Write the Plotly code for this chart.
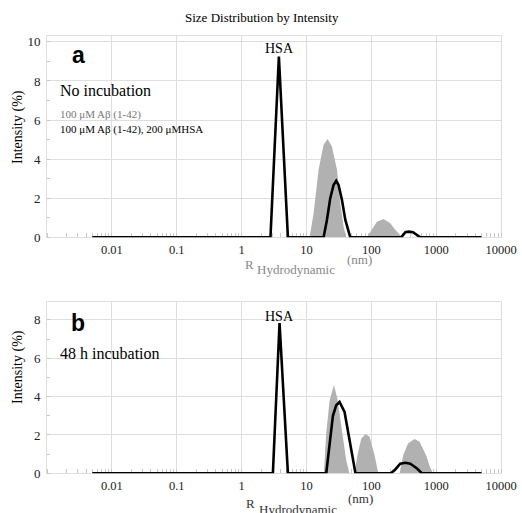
import plotly.graph_objects as go

W, H = 522, 513

# ---------------- data (hydrodynamic size in nm, intensity in %) ----------------
# Panel a: no incubation
a_abeta_size = [11.2, 12.9, 15.4, 18.4, 21.2, 24.7, 29.6, 33.3, 37.4, 41.1,
                85.7, 102, 122, 155, 196, 234, 298]
a_abeta_int = [0, 1.23, 3.45, 4.74, 5.03, 4.65, 3.45, 1.74, 0.55, 0,
               0, 0.38, 0.8, 0.94, 0.72, 0.38, 0]

a_mix_size = [0.005, 2.79, 2.88, 3.76, 5.18,
              18.4, 20.7, 23.3, 26.2, 28.8, 31.3, 35.3, 39.8, 43.0, 47.4,
              290, 335, 377, 440, 570, 5000]
a_mix_int = [0, 0, 1.0, 9.25, 0,
             0, 0.89, 2.0, 2.68, 2.89, 2.68, 1.91, 0.89, 0.46, 0,
             0, 0.26, 0.29, 0.26, 0, 0]

# Panel b: 48 h incubation
b_abeta_size = [18.6, 20.2, 22.8, 26.5, 30.0, 34.4, 41.0, 46.0,
                55, 62, 70, 81.7, 94, 113, 128,
                274, 308, 368, 466, 556, 708, 795, 895]
b_abeta_int = [0, 2.1, 3.8, 4.6, 3.9, 2.45, 0.7, 0,
               0, 1.05, 1.8, 2.05, 1.9, 0.9, 0,
               0, 0.9, 1.55, 1.79, 1.65, 0.9, 0.35, 0]

b_mix_size = [0.005, 3.04, 3.85, 5.18,
              20.2, 22.8, 25.6, 28.8, 32.4, 38.7, 46.0, 57.0,
              201, 234, 280, 335, 400, 507, 603, 5000]
b_mix_int = [0, 0, 7.84, 0,
             0, 1.4, 3.0, 3.55, 3.72, 3.2, 1.8, 0,
             0, 0.2, 0.5, 0.55, 0.5, 0.25, 0, 0]

x_tickvals = [0.01, 0.1, 1, 10, 100, 1000, 10000]
x_ticktext = ["0.01", "0.1", "1", "10", "100", "1000", "10000"]
a_yticks = [0, 2, 4, 6, 8, 10]
b_yticks = [0, 2, 4, 6, 8]

GRAY_FILL = "#b1b1b1"
GRID = "#dedede"
SERIF = "Liberation Serif, Times New Roman, serif"
SANS = "Liberation Sans, Arial, sans-serif"


def px(x):
    return x / W


def py(y):
    return 1 - y / H


fig = go.Figure()

for xa, ya, gs, gi, bs, bi in [
    ("x", "y", a_abeta_size, a_abeta_int, a_mix_size, a_mix_int),
    ("x2", "y2", b_abeta_size, b_abeta_int, b_mix_size, b_mix_int),
]:
    fig.add_trace(go.Scatter(x=gs, y=gi, xaxis=xa, yaxis=ya, mode="lines",
                             fill="tozeroy", fillcolor=GRAY_FILL,
                             line=dict(width=0, color=GRAY_FILL),
                             showlegend=False, hoverinfo="skip"))
    fig.add_trace(go.Scatter(x=bs, y=bi, xaxis=xa, yaxis=ya, mode="lines",
                             line=dict(width=2.6, color="black"),
                             cliponaxis=False, showlegend=False))

xdom = [px(47), px(501)]


def xaxis_cfg(anchor):
    return dict(type="log", range=[-3, 4], domain=xdom, anchor=anchor,
                automargin=False,
                tickvals=x_tickvals, ticktext=x_ticktext,
                tickfont=dict(family=SERIF, size=12.5, color="#222"),
                showgrid=True, gridcolor=GRID, gridwidth=1,
                showline=True, linecolor=GRID, linewidth=1, mirror=True,
                zeroline=False, ticks="", ticklabelstandoff=1,
                minor=dict(ticks="inside", ticklen=4, tickcolor="#c8c8c8",
                           dtick="D1", showgrid=False),
                layer="below traces")


def yaxis_cfg(anchor, dom, rng, tv):
    return dict(range=rng, domain=dom, anchor=anchor, automargin=False,
                tickvals=tv, tickfont=dict(family=SERIF, size=13, color="#222"),
                showgrid=True, gridcolor=GRID, gridwidth=1,
                showline=True, linecolor=GRID, linewidth=1, mirror=True,
                zeroline=False, ticks="", ticklabelstandoff=3,
                minor=dict(ticks="inside", ticklen=3, tickcolor="#c8c8c8",
                           dtick=1, showgrid=False),
                layer="below traces")


fig.update_layout(
    width=W, height=H, autosize=False,
    margin=dict(l=0, r=0, t=0, b=0, pad=0),
    paper_bgcolor="white", plot_bgcolor="white",
    xaxis=xaxis_cfg("y"),
    yaxis=yaxis_cfg("x", [py(237.3), py(36)], [0, 10.3], a_yticks),
    xaxis2=xaxis_cfg("y2"),
    yaxis2=yaxis_cfg("x2", [py(473.3), py(301.7)], [0, 8.95], b_yticks),
)

ann = []


def text(x, y, t, size, color="black", family=SERIF, xanchor="center", **kw):
    ann.append(dict(x=px(x), y=py(y), xref="paper", yref="paper", text=t,
                    showarrow=False, xanchor=xanchor, yanchor="middle",
                    font=dict(family=family, size=size, color=color), **kw))


text(262, 17, "Size Distribution by Intensity", 13)
# panel a
text(78, 55, "<b>a</b>", 23, family=SANS)
text(58, 90, "No incubation", 16, xanchor="left")
text(58, 115, "100 μM Aβ (1-42)", 11, color="#777777", xanchor="left")
text(58, 129, "100 μM Aβ (1-42), 200 μMHSA", 11, xanchor="left")
text(279, 48, "HSA", 14)
text(18, 127, "Intensity (%)", 14, textangle=-90)
text(243, 264, "R", 13, color="#888888", xanchor="left")
text(255, 269, "Hydrodynamic", 13, color="#888888", xanchor="left")
text(345, 259, "(nm)", 13, color="#888888", xanchor="left")
# panel b
text(244, 503, "R", 13, color="#333333", xanchor="left")
text(78, 323, "<b>b</b>", 23, family=SANS)
text(58, 353, "48 h incubation", 16, xanchor="left")
text(279, 316, "HSA", 14)
text(18, 367, "Intensity (%)", 14, textangle=-90)
text(257, 509, "Hydrodynamic", 13, color="#333333", xanchor="left")
text(346, 498, "(nm)", 13, color="#333333", xanchor="left")

fig.update_layout(annotations=ann)

fig.write_html("out.html")
